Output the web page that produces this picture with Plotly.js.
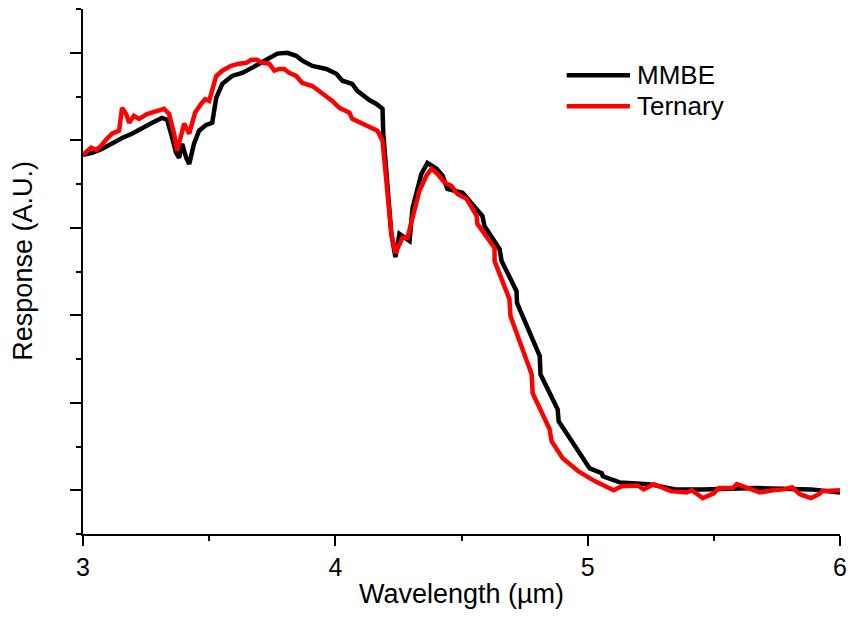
<!DOCTYPE html>
<html>
<head>
<meta charset="utf-8">
<script src="https://cdn.plot.ly/plotly-3.0.1.min.js"></script>
<style>html,body{margin:0;padding:0;background:#fff;}#chart{width:848px;height:617px;}</style>
</head>
<body>
<div id="chart"></div>
<script>
// Wavelength (µm) and response (A.U.)
const mmbeX = [3.000,3.036,3.075,3.115,3.155,3.194,3.230,3.274,3.313,3.333,3.349,3.369,3.381,3.393,3.409,3.421,3.440,3.460,3.488,3.512,3.528,3.552,3.591,3.631,3.671,3.706,3.738,3.770,3.810,3.845,3.869,3.909,3.964,4.004,4.028,4.067,4.087,4.135,4.163,4.187,4.190,4.206,4.222,4.238,4.254,4.294,4.306,4.341,4.365,4.401,4.425,4.444,4.504,4.532,4.583,4.591,4.651,4.659,4.718,4.720,4.810,4.813,4.881,4.885,4.956,4.972,5.008,5.056,5.060,5.127,5.242,5.349,5.456,5.671,5.885,6.000];
const mmbeY = [0.767,0.771,0.780,0.794,0.805,0.815,0.827,0.840,0.851,0.847,0.815,0.771,0.760,0.792,0.760,0.746,0.792,0.822,0.835,0.840,0.897,0.929,0.947,0.954,0.966,0.977,0.986,0.998,1.000,0.993,0.982,0.970,0.963,0.952,0.936,0.929,0.913,0.892,0.883,0.872,0.815,0.684,0.586,0.533,0.586,0.570,0.645,0.723,0.748,0.735,0.719,0.689,0.680,0.661,0.627,0.604,0.551,0.524,0.455,0.428,0.307,0.265,0.185,0.158,0.096,0.082,0.050,0.039,0.032,0.018,0.014,0.002,0.002,0.005,0.002,-0.005];

const ternX = [3.000,3.032,3.052,3.071,3.091,3.115,3.143,3.155,3.171,3.183,3.202,3.222,3.254,3.290,3.321,3.341,3.361,3.373,3.389,3.401,3.421,3.444,3.468,3.484,3.500,3.512,3.528,3.552,3.587,3.619,3.647,3.667,3.690,3.710,3.738,3.758,3.778,3.798,3.817,3.845,3.869,3.909,3.948,3.988,4.016,4.056,4.067,4.115,4.167,4.187,4.206,4.222,4.238,4.254,4.266,4.286,4.306,4.333,4.361,4.381,4.405,4.433,4.460,4.484,4.520,4.560,4.563,4.631,4.631,4.690,4.694,4.778,4.782,4.849,4.857,4.901,4.964,5.028,5.103,5.135,5.198,5.222,5.262,5.294,5.329,5.393,5.413,5.456,5.500,5.520,5.575,5.591,5.627,5.683,5.734,5.778,5.810,5.841,5.885,5.917,5.929,6.000];
const ternY = [0.767,0.783,0.778,0.787,0.801,0.815,0.822,0.874,0.860,0.840,0.856,0.849,0.860,0.867,0.872,0.860,0.815,0.776,0.815,0.838,0.815,0.863,0.883,0.894,0.890,0.918,0.947,0.959,0.970,0.975,0.977,0.984,0.984,0.977,0.975,0.959,0.963,0.963,0.954,0.947,0.931,0.924,0.908,0.890,0.874,0.863,0.849,0.835,0.822,0.799,0.684,0.586,0.542,0.565,0.577,0.577,0.627,0.684,0.719,0.735,0.723,0.703,0.696,0.677,0.666,0.627,0.609,0.554,0.524,0.437,0.398,0.265,0.222,0.140,0.112,0.073,0.043,0.021,0.000,0.009,0.011,0.002,0.014,0.005,-0.002,-0.005,0.000,-0.018,-0.007,0.005,0.005,0.014,0.007,-0.005,0.000,0.002,0.007,-0.009,-0.018,-0.009,-0.002,0.000];

const seriesNames = ['MMBE', 'Ternary'];
const seriesColors = ['#000000', '#ff0000'];

const FONT = 'Arial, "Liberation Sans", sans-serif';

const traces = [
  {x: mmbeX, y: mmbeY, name: seriesNames[0], mode: 'lines', line: {color: seriesColors[0], width: 4.5}, showlegend: false},
  {x: ternX, y: ternY, name: seriesNames[1], mode: 'lines', line: {color: seriesColors[1], width: 4.5}, showlegend: false}
];

// custom legend (line samples + labels) in paper coordinates
const legY = [0.874, 0.815];
const shapes = seriesNames.map((n, i) => ({
  type: 'line', xref: 'paper', yref: 'paper', x0: 0.639, x1: 0.7225, y0: legY[i], y1: legY[i],
  line: {color: seriesColors[i], width: 4.5}
}));
const annotations = seriesNames.map((n, i) => ({
  text: n, xref: 'paper', yref: 'paper', x: 0.729, y: legY[i], xanchor: 'left', yanchor: 'middle',
  showarrow: false, font: {family: FONT, size: 26, color: '#000'}
}));
// y-axis title (placed slightly above the plot centre, as in the original)
annotations.push({
  text: 'Response (A.U.)', xref: 'paper', yref: 'paper', x: -0.0797, y: 0.52,
  xanchor: 'center', yanchor: 'middle', textangle: -90, showarrow: false,
  font: {family: FONT, size: 27, color: '#000'}
});

const layout = {
  width: 848, height: 617,
  margin: {l: 83, r: 8, t: 9, b: 83},
  paper_bgcolor: '#fff', plot_bgcolor: '#fff',
  showlegend: false,
  font: {family: FONT, color: '#000', size: 25},
  xaxis: {
    range: [3, 6], dtick: 1, tick0: 3, ticks: 'outside', ticklen: 10, tickwidth: 2, tickcolor: '#000',
    minor: {dtick: 0.5, ticks: 'outside', ticklen: 5, tickwidth: 2, tickcolor: '#000'},
    showline: true, linewidth: 2, linecolor: '#000', showgrid: false, zeroline: false,
    showticklabels: true,
    tickfont: {family: FONT, size: 25, color: '#000'},
    title: {text: 'Wavelength (µm)', font: {family: FONT, size: 27, color: '#000'}, standoff: 4},
    automargin: false
  },
  yaxis: {
    range: [-0.1, 1.1], dtick: 0.2, tick0: 0, ticks: 'outside', ticklen: 11, tickwidth: 2, tickcolor: '#000',
    minor: {dtick: 0.1, ticks: 'outside', ticklen: 5, tickwidth: 2, tickcolor: '#000'},
    showticklabels: false,
    showline: true, linewidth: 2, linecolor: '#000', showgrid: false, zeroline: false,
    automargin: false
  },
  shapes: shapes,
  annotations: annotations
};

Plotly.newPlot('chart', traces, layout, {displayModeBar: false, staticPlot: true});
</script>
</body>
</html>
